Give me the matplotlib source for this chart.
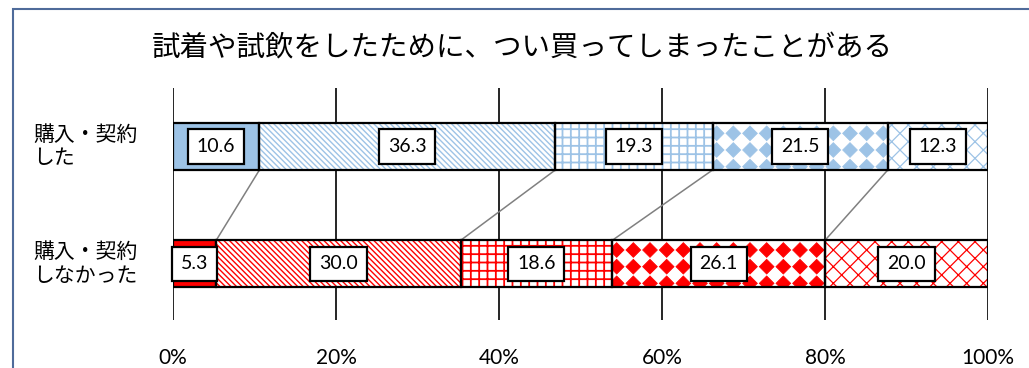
import numpy as np
import matplotlib
matplotlib.use('Agg')
import matplotlib.pyplot as plt
from matplotlib import hatch as mhatch
from matplotlib.path import Path
from matplotlib.patches import Rectangle
from matplotlib.transforms import blended_transform_factory

plt.rcParams['font.family'] = ['Noto Sans CJK JP', 'DejaVu Sans']

# データ
title = '試着や試飲をしたために、つい買ってしまったことがある'
categories = ['購入・契約\nした', '購入・契約\nしなかった']
bought = [10.6, 36.3, 19.3, 21.5, 12.3]
not_bought = [5.3, 30.0, 18.6, 26.1, 20.0]
xticks = [0, 20, 40, 60, 80, 100]


# Excel の「ダイヤ」模様: '*' をひし形の格子に置き換える
class Diamonds(mhatch.HatchPatternBase):
    size = 0.44

    def __init__(self, hatch, density):
        self.num_rows = hatch.count('*') * density
        if self.num_rows == 0:
            self.num_vertices = 0
        else:
            self.num_vertices = (self.num_rows + 1) ** 2 * 5

    def set_vertices_and_codes(self, vertices, codes):
        p = 1.0 / self.num_rows
        h = p * self.size
        shape = np.array([[h, 0], [0, h], [-h, 0], [0, -h], [h, 0]])
        pts = []
        for i in range(self.num_rows + 1):
            for j in range(self.num_rows + 1):
                pts.append(shape + [i * p, j * p])
        vertices[:] = np.concatenate(pts)
        c = [Path.MOVETO, Path.LINETO, Path.LINETO, Path.LINETO, Path.CLOSEPOLY]
        codes[:] = c * (len(pts))


mhatch._hatch_types = [Diamonds if t is mhatch.Stars else t for t in mhatch._hatch_types]

# 行ごとの色 (上: 青, 下: 赤)
row_colors = ['#9DC3E6', '#FF0000']
# 区分ごとの模様: (塗り, 模様, 模様の色, 模様の線幅)
def seg_style(color, k):
    if k == 0:
        return color, None, color, 1.0
    if k == 1:
        return 'white', '\\' * 6, color, 1.0
    if k == 2:
        return 'white', '++', color, 1.3
    if k == 3:
        return 'white', '*', color, 0.6
    return 'white', 'xx', color, 0.9

fig = plt.figure(figsize=(10.29, 3.68), dpi=100)
ax = fig.add_axes([173/1029, 1-320/368, 815/1029, 232/368])

bar_h = 0.4
rows = [bought, not_bought]
for r, vals in enumerate(rows):
    lefts = np.concatenate([[0], np.cumsum(vals)[:-1]])
    for k, (v, l) in enumerate(zip(vals, lefts)):
        fc, hatch, hc, hlw = seg_style(row_colors[r], k)
        with plt.rc_context({'hatch.linewidth': hlw}):
            b = ax.barh(r, v, left=l, height=bar_h, color=fc, hatch=hatch,
                        edgecolor=hc, linewidth=0, zorder=2)
            for p in b:
                if hasattr(p, 'set_hatch_linewidth'):
                    p.set_hatch_linewidth(hlw)
        ax.barh(r, v, left=l, height=bar_h, fill=False, edgecolor='black',
                linewidth=1.6, zorder=3)
        ax.text(l + v/2, r, '%.1f' % v, ha='center', va='center',
                fontsize=14, family=['Lato', 'DejaVu Sans'], zorder=5,
                bbox=dict(boxstyle='square,pad=0.45', fc='white', ec='black', lw=1.6))

# 区分の境界をつなぐ線
cb = np.cumsum(bought)
cn = np.cumsum(not_bought)
for i in range(4):
    ax.plot([cb[i], cn[i]], [bar_h/2, 1-bar_h/2], color='#808080', lw=1.1, zorder=1)

ax.set_xlim(0, 100)
ax.set_ylim(1.48, -0.5)
ax.set_xticks(xticks)
ax.set_xticklabels(['%d%%' % t for t in xticks], family=['Lato', 'DejaVu Sans'], fontsize=15)
ax.tick_params(axis='x', length=0, pad=20)
ax.set_yticks([])
ax.grid(axis='x', color='black', lw=1.2)
ax.set_axisbelow(True)
for s in ax.spines.values():
    s.set_visible(False)

# 項目名
tr = blended_transform_factory(fig.transFigure, ax.transData)
for r, c in enumerate(categories):
    ax.text(33/1029, r, c, transform=tr, ha='left', va='center',
            fontsize=15, linespacing=1.1)

fig.text(522/1029, 1-48/368, title, ha='center', va='center', fontsize=20.5)

# 外枠
fig.add_artist(Rectangle((13/1029, -0.5), 2, 1-9/368+0.5, transform=fig.transFigure,
                         fill=False, edgecolor='#4F6B9A', lw=1.5))

fig.savefig('out.png', dpi=100)
